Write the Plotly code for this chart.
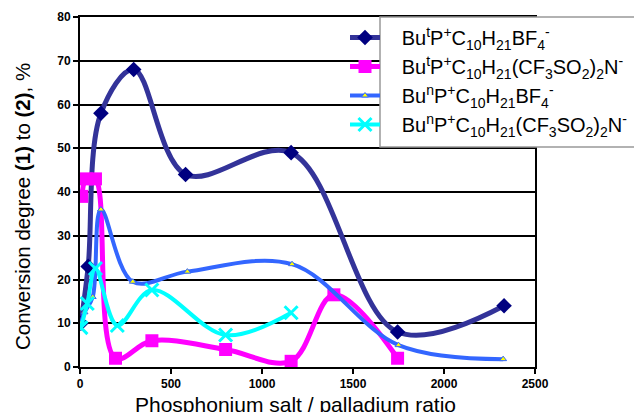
import plotly.graph_objects as go

# ---- data ----
pad = "&nbsp;&nbsp;&nbsp;"
names = [
    "Bu<sup>t</sup>P<sup>+</sup>C<sub>10</sub>H<sub>21</sub>BF<sub>4</sub><sup>-</sup>",
    "Bu<sup>t</sup>P<sup>+</sup>C<sub>10</sub>H<sub>21</sub>(CF<sub>3</sub>SO<sub>2</sub>)<sub>2</sub>N<sup>-</sup>",
    "Bu<sup>n</sup>P<sup>+</sup>C<sub>10</sub>H<sub>21</sub>BF<sub>4</sub><sup>-</sup>",
    "Bu<sup>n</sup>P<sup>+</sup>C<sub>10</sub>H<sub>21</sub>(CF<sub>3</sub>SO<sub>2</sub>)<sub>2</sub>N<sup>-</sup>",
]
x_tbf4 = [5, 45, 115, 295, 580, 1160, 1745, 2330]
y_tbf4 = [10, 23, 58, 68, 44, 49, 8, 14]

x_tntf = [10, 35, 85, 195, 395, 800, 1160, 1395, 1745]
y_tntf = [39, 43, 43, 2, 6, 4, 1.3, 16.5, 2]

x_nbf4 = [5, 25, 70, 115, 290, 590, 1165, 1750, 2325]
y_nbf4 = [10, 12.5, 16, 36, 19.5, 21.8, 23.5, 5, 1.8]

x_nntf = [5, 40, 85, 205, 395, 800, 1160]
y_nntf = [9, 14.5, 22.5, 9.5, 17.6, 7.3, 12.4]

x_ticks = [0, 500, 1000, 1500, 2000, 2500]
y_ticks = [0, 10, 20, 30, 40, 50, 60, 70, 80]

FONT = "Liberation Sans, Arial, sans-serif"

fig = go.Figure()
fig.add_trace(go.Scatter(
    x=x_tbf4, y=y_tbf4, name=pad + names[0], mode="lines+markers", legendgroup="a",
    line=dict(color="#333399", width=5, shape="spline", smoothing=1),
    marker=dict(symbol="diamond", size=12, color="#000080")))
fig.add_trace(go.Scatter(
    x=x_tntf, y=y_tntf, name=pad + names[1], mode="lines+markers", legendgroup="b",
    line=dict(color="#FF00FF", width=5, shape="spline", smoothing=1),
    marker=dict(symbol="square", size=13, color="#FF00FF")))
fig.add_trace(go.Scatter(
    x=x_nbf4, y=y_nbf4, name=pad + names[2], mode="lines+markers", legendgroup="c",
    line=dict(color="#3366FF", width=4, shape="spline", smoothing=1),
    marker=dict(symbol="triangle-up", size=6, color="#FFFF00",
                line=dict(color="#3366FF", width=1))))
fig.add_trace(go.Scatter(
    x=x_nntf, y=y_nntf, name=pad + names[3], mode="lines+markers", legendgroup="d",
    line=dict(color="#00FFFF", width=4, shape="spline", smoothing=1),
    marker=dict(symbol="x-thin", size=13, color="#00FFFF",
                line=dict(color="#00FFFF", width=3))))

# plot area in window pixels: x 80..535, y 17..367 (page body has an 8px margin)
def px(xw):
    return (xw - 80) / 455

def py(yw):
    return (367 - yw) / 350

# white legend box (legend symbols sit outside it, to the left)
fig.add_shape(type="rect", xref="paper", yref="paper",
              x0=px(380), x1=px(660), y0=py(147), y1=py(17),
              fillcolor="white", line=dict(color="#999999", width=1.5),
              layer="above")

fig.add_annotation(text="Phosphonium salt / palladium ratio", showarrow=False,
                   xref="paper", yref="paper", x=px(295), y=py(404),
                   xanchor="center", yanchor="middle",
                   font=dict(size=21, family=FONT, color="black"))
fig.add_annotation(text="Conversion degree <b>(1)</b> to <b>(2)</b>, %", showarrow=False,
                   xref="paper", yref="paper", x=px(22), y=py(207),
                   xanchor="center", yanchor="middle", textangle=-90,
                   font=dict(size=20.5, family=FONT, color="black"))

fig.update_layout(
    width=634, height=404,
    margin=dict(l=72, r=107, t=9, b=45, autoexpand=False),
    paper_bgcolor="white", plot_bgcolor="white",
    font=dict(family=FONT, color="black"),
    showlegend=True,
    legend=dict(
        xref="paper", yref="paper",
        x=px(345), y=py(18), xanchor="left", yanchor="top",
        bgcolor="rgba(0,0,0,0)", borderwidth=0,
        font=dict(size=20, family=FONT, color="black"),
        tracegroupgap=0, itemwidth=30,
    ),
    xaxis=dict(
        range=[0, 2500], tickvals=x_ticks, ticktext=[str(v) for v in x_ticks],
        showgrid=False, zeroline=False, automargin=False,
        showline=True, linecolor="black", linewidth=2, mirror=True,
        ticks="outside", ticklen=5, tickcolor="black", tickwidth=2,
        tickfont=dict(size=12, family=FONT, weight="bold", color="black"),
    ),
    yaxis=dict(
        range=[0, 80], tickvals=y_ticks, ticktext=[str(v) for v in y_ticks],
        showgrid=True, gridcolor="black", gridwidth=1.5, zeroline=False,
        automargin=False,
        showline=True, linecolor="black", linewidth=2, mirror=True,
        ticks="outside", ticklen=5, tickcolor="black", tickwidth=2,
        tickfont=dict(size=12, family=FONT, weight="bold", color="black"),
    ),
)

fig.write_html("out.html")
